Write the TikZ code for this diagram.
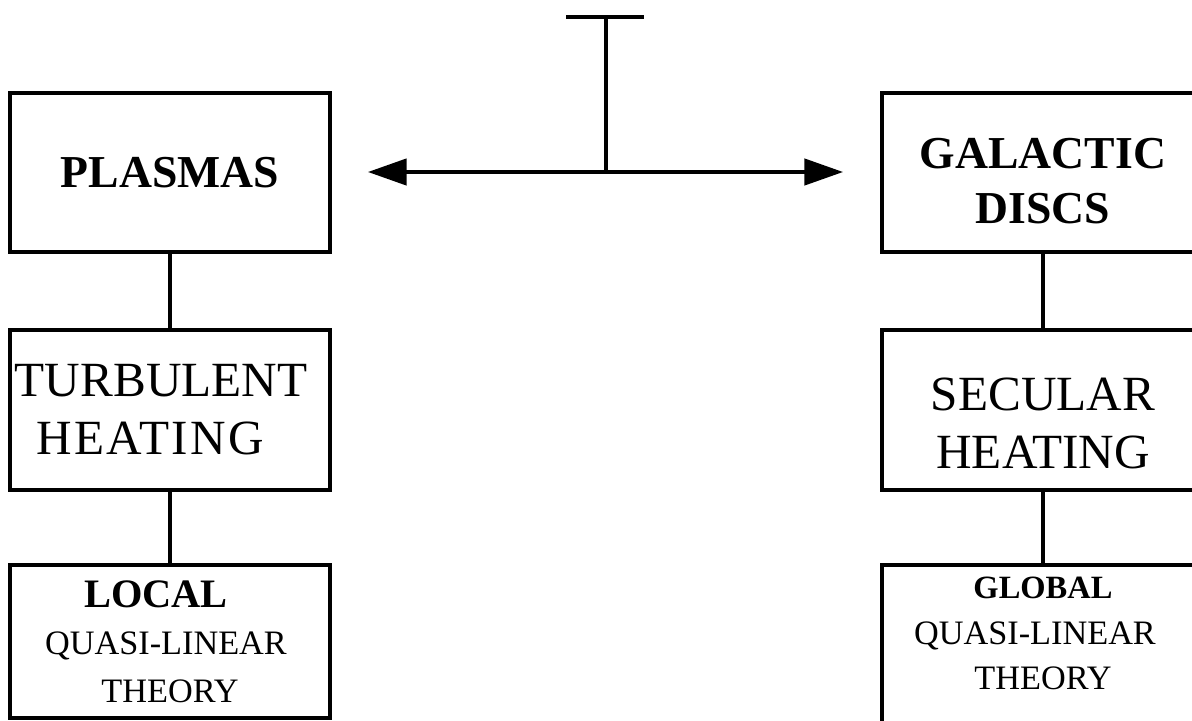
\documentclass[tikz,border=0pt]{standalone}
\usepackage{fontspec}
\setmainfont{Liberation Serif}
\usetikzlibrary{arrows.meta}

\newcommand{\spaced}{\addfontfeatures{LetterSpace=5}}
\newcommand{\lbold}[1]{{\fontsize{23}{27}\selectfont\bfseries #1}}
\newcommand{\gbold}[1]{{\fontsize{18.5}{26}\selectfont\bfseries #1}}

\tikzset{
  box/.style={draw, line width=1.9pt, align=center, inner sep=0pt, outer sep=0pt},
  bigbold/.style={font=\fontsize{26}{31}\selectfont\bfseries},
  midtext/.style={font=\fontsize{28}{33}\selectfont},
  smalltext/.style={font=\fontsize{19.5}{27}\selectfont},
  link/.style={line width=1.9pt},
  bigtip/.style={-{Triangle[length=22pt,width=15pt]}},
}

\begin{document}
\begin{tikzpicture}[x=0.02cm, y=-0.02cm]
        % Frame of the picture
        \useasboundingbox (0,0) rectangle (1192,720);
        \clip (0,0) rectangle (1192,720);

        % Left column: plasmas
        \node[box, bigbold, minimum width=6.4cm, minimum height=3.18cm] (plasmas) at (170,172.5) {PLASMAS};
        \node[box, midtext, minimum width=6.4cm, minimum height=3.2cm] (turb) at (170,410)
            {\hspace*{-0.36cm}TURBULENT\\\hspace*{-0.8cm}{\spaced HEATING}};
        \node[box, smalltext, minimum width=6.4cm, minimum height=3.06cm] (local) at (170,641.5)
            {\hspace*{-0.56cm}\lbold{LOCAL}\\\hspace*{-0.16cm}QUASI-LINEAR\\THEORY};

        % Right column: galactic discs
        \node[box, bigbold, minimum width=6.44cm, minimum height=3.18cm] (discs) at (1043,172.5)
            {\rule{0pt}{27pt}GALACTIC\\DISCS};
        \node[box, midtext, minimum width=6.44cm, minimum height=3.2cm] (secular) at (1043,410)
            {\rule{0pt}{34pt}SECULAR\\HEATING};
        \node[box, smalltext, minimum width=6.44cm, anchor=north, font=\fontsize{19.5}{26}\selectfont] (global) at (1043,565)
            {\rule{0pt}{19pt}\gbold{GLOBAL}\\\hspace*{-0.32cm}QUASI-LINEAR\\THEORY\rule[-50pt]{0pt}{0pt}};

        % Links down each column
        \draw[link] (plasmas) -- (turb);
        \draw[link] (turb) -- (local);
        \draw[link] (discs) -- (secular);
        \draw[link] (secular) -- (global);

        % The T and the double arrow
        \coordinate (barL) at (566,17);
        \coordinate (barR) at (644,17);
        \coordinate (top) at (606,17);
        \coordinate (mid) at (606,172);
        \coordinate (tipL) at (368,172);
        \coordinate (tipR) at (843,172);

        \draw[link] (barL) -- (barR);
        \draw[line width=2.2pt] (top) -- (mid);
        \draw[link, bigtip] (mid) -- (tipL);
        \draw[link, bigtip] (mid) -- (tipR);
\end{tikzpicture}
\end{document}
